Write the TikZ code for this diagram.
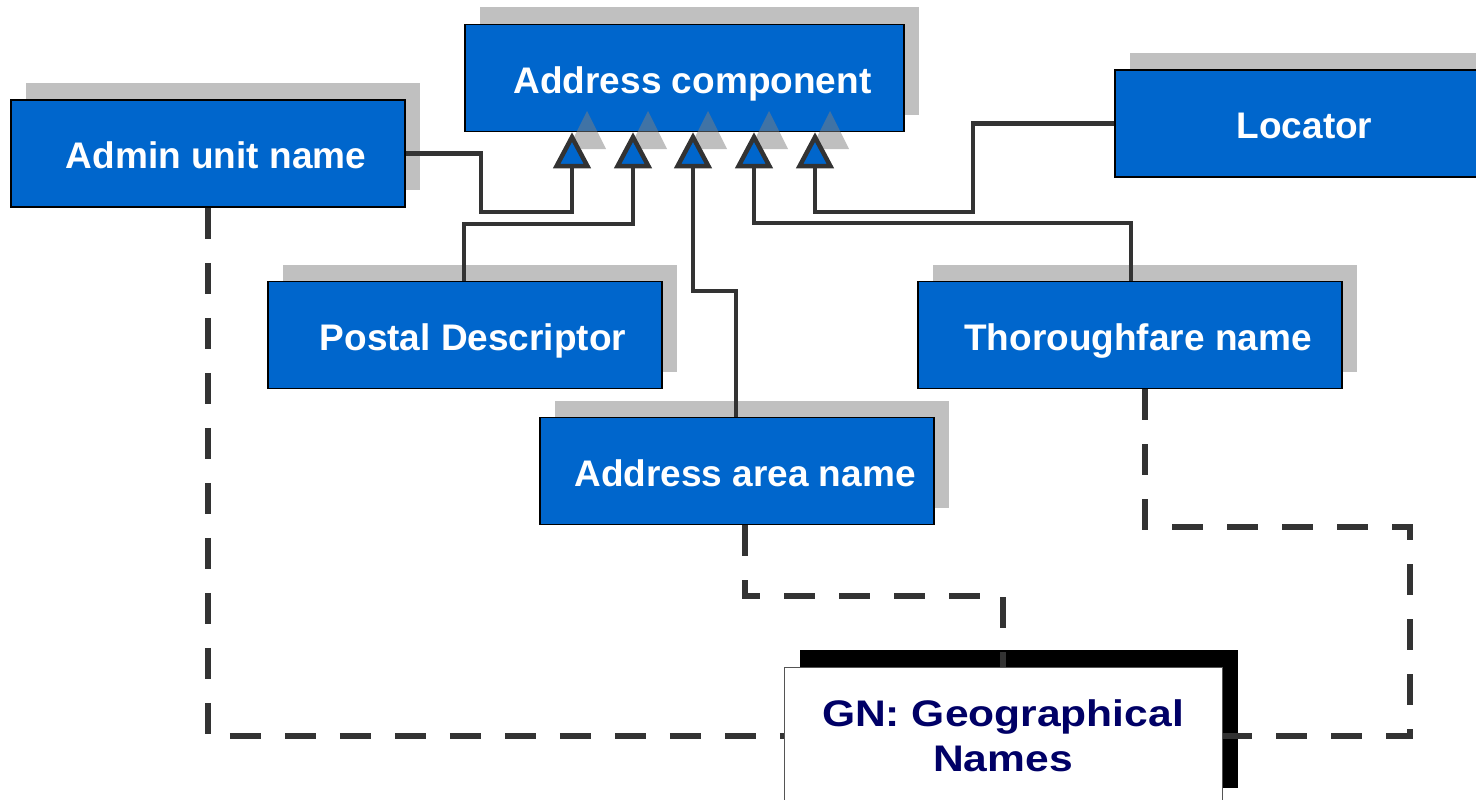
\documentclass[tikz,border=0pt]{standalone}
\usepackage{fontspec}
\setmainfont{Liberation Sans}
\usetikzlibrary{arrows.meta,shadows}
\definecolor{boxblue}{HTML}{0066CC}
\definecolor{shgray}{HTML}{C0C0C0}
\definecolor{linegray}{HTML}{333333}
\definecolor{navy}{HTML}{000066}
\definecolor{gnborder}{HTML}{555555}
\tikzset{
  bluebox/.style={rectangle, draw=black, line width=1.5pt, fill=boxblue, text=white,
    inner sep=0pt, minimum height=107pt, text height=30.5pt, text depth=0pt,
    font=\fontsize{37}{44}\selectfont\bfseries,
    drop shadow={shadow xshift=15pt, shadow yshift=17pt, fill=shgray, opacity=1}},
  gnbox/.style={rectangle, draw=gnborder, line width=1pt, fill=white, text=navy,
    inner sep=0pt, align=center,
    font=\fontsize{37}{45}\selectfont\bfseries,
    drop shadow={shadow xshift=16pt, shadow yshift=17pt, fill=black, opacity=1}},
  gen/.style={draw=linegray, line width=4.5pt,
    -{Triangle[length=36pt,width=37pt,fill=boxblue]}},
  dashline/.style={draw=linegray, line width=6pt, dash pattern=on 31pt off 24pt},
  trishadow/.style={fill=gray, opacity=0.5}
}
\begin{document}
\begin{tikzpicture}[x=1pt,y=-1pt]
\useasboundingbox (0,0) rectangle (1476,800);
% boxes
\node[bluebox, minimum width=439pt] (ac) at (684.5,78) {\hspace*{16pt}Address component};
\node[bluebox, minimum width=394pt] (admin) at (208,153.5) {\hspace*{16pt}Admin unit name};
\node[bluebox, minimum width=363pt] (loc) at (1296.5,123.5) {\hspace*{16pt}Locator};
\node[bluebox, minimum width=394pt] (pd) at (465,335) {\hspace*{16pt}Postal Descriptor};
\node[bluebox, minimum width=424pt] (tf) at (1130,335) {\hspace*{16pt}Thoroughfare name};
\node[bluebox, minimum width=394pt] (aa) at (737,471) {\hspace*{16pt}Address area name};
\node[gnbox, minimum width=438pt, minimum height=138pt] (gn) at (1003,736)
  {\rule{0pt}{4pt}\scalebox{1.15}[1]{GN: Geographical}\\\scalebox{1.15}[1]{Names}};
% shadows of the triangles
\foreach \x in {572,633,693,754,815}{
  \fill[trishadow] (\x+15-19,149) -- (\x+15,111) -- (\x+15+19,149) -- cycle;
}
% generalisation connectors
\draw[gen] (admin.east) -| (481,212) -| (ac.south -| 572,0);
\draw[gen] (pd.north -| 464,0) |- (633,224) -- (ac.south -| 633,0);
\draw[gen] (aa.north -| 736,0) |- (693,291) -- (ac.south -| 693,0);
\draw[gen] (tf.north -| 1131,0) |- (754,223) -- (ac.south -| 754,0);
\draw[gen] (loc.west) -| (973,212) -| (ac.south -| 815,0);
% dashed connectors
\draw[dashline] (admin.south) |- (gn.west);
\draw[dashline] (aa.south -| 745,0) |- (1003,596) -- (gn.north);
\draw[dashline] (tf.south -| 1145,0) |- (1410,527) |- (gn.east);
\end{tikzpicture}
\end{document}
